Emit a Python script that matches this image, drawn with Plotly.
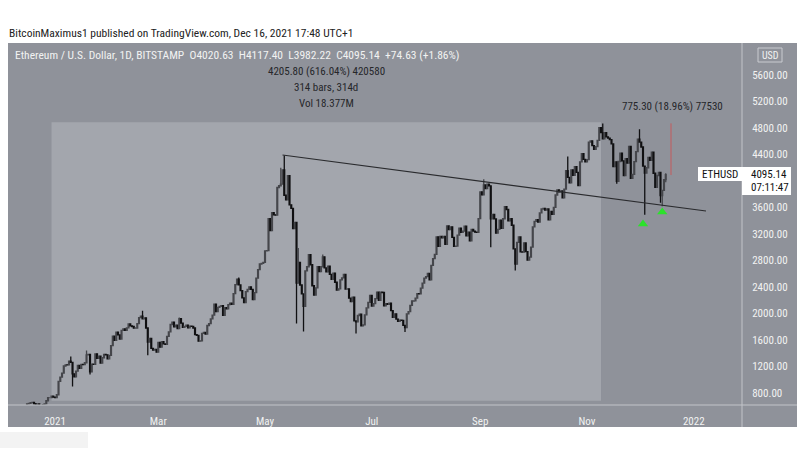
import pandas as pd
import plotly.graph_objects as go

# ---------------- data (ETH/USD daily closes, BITSTAMP) ----------------
first_open = 590.0
dec_2020 = [596, 601, 591, 554, 573, 559, 545, 568, 590, 586, 589, 636, 643, 654, 658, 638, 608, 634, 583, 611,
            626, 635, 683, 731, 731, 751, 737]
jan_2021 = [730, 774, 975, 1040, 1100, 1208, 1225, 1224, 1281, 1262, 1090, 1043, 1130, 1218, 1171, 1233, 1230, 1257,
            1377, 1382, 1121, 1236, 1233, 1392, 1324, 1357, 1253, 1332, 1382, 1376, 1314]
feb_2021 = [1369, 1515, 1660, 1594, 1718, 1677, 1614, 1746, 1768, 1744, 1783, 1843, 1814, 1804, 1779, 1781, 1848, 1937,
            1960, 1919, 1935, 1781, 1570, 1626, 1475, 1446, 1459, 1417]
mar_2021 = [1565, 1492, 1575, 1541, 1533, 1654, 1723, 1834, 1868, 1799, 1826, 1772, 1924, 1854, 1791, 1806, 1823, 1782,
            1810, 1806, 1781, 1681, 1669, 1583, 1588, 1700, 1715, 1691, 1819, 1846, 1918]
apr_2021 = [1977, 2143, 2028, 2093, 2108, 2117, 1971, 2088, 2072, 2135, 2157, 2139, 2299, 2435, 2519, 2431, 2344, 2237,
            2166, 2330, 2364, 2403, 2364, 2211, 2316, 2534, 2662, 2747, 2757, 2773]
may_2021 = [2945, 2950, 3431, 3253, 3522, 3490, 3484, 3902, 3928, 3952, 4168, 3785, 3715, 4079, 3640, 3587, 3282, 3374,
            2460, 2772, 2430, 2295, 2109, 2643, 2706, 2888, 2736, 2419, 2278, 2388, 2707]
jun_2021 = [2634, 2706, 2856, 2688, 2630, 2715, 2590, 2517, 2608, 2472, 2353, 2372, 2508, 2537, 2590, 2369, 2372, 2231,
            2178, 2245, 1888, 1875, 1970, 1990, 1812, 1829, 1978, 2084, 2167, 2275]
jul_2021 = [2113, 2150, 2226, 2322, 2198, 2324, 2317, 2117, 2147, 2139, 2155, 2044, 1941, 1995, 1916, 1880, 1898, 1895,
            1820, 1786, 1995, 2028, 2124, 2189, 2191, 2231, 2300, 2298, 2382, 2460, 2535]
aug_2021 = [2557, 2607, 2508, 2725, 2827, 2891, 3157, 3013, 3163, 3141, 3164, 3045, 3322, 3266, 3309, 3149, 3012, 3018,
            3182, 3287, 3226, 3242, 3320, 3173, 3228, 3095, 3270, 3244, 3228, 3225, 3433]
sep_2021 = [3834, 3790, 3940, 3887, 3952, 3927, 3429, 3497, 3427, 3212, 3270, 3410, 3285, 3430, 3614, 3570, 3397, 3433,
            3332, 2976, 2747, 3075, 3155, 2931, 2927, 3064, 2934, 2807, 2852, 3001]
oct_2021 = [3307, 3392, 3418, 3380, 3518, 3577, 3587, 3561, 3579, 3415, 3543, 3496, 3603, 3789, 3866, 3835, 3849, 3745,
            3877, 4155, 4055, 3972, 4168, 4085, 4218, 4131, 3931, 4289, 4414, 4326, 4290]
nov_2021 = [4322, 4586, 4606, 4535, 4476, 4520, 4612, 4807, 4731, 4637, 4730, 4665, 4648, 4623, 4559, 4216, 4290, 3996,
            4294, 4422, 4304, 4083, 4338, 4270, 4523, 4040, 4099, 4293, 4443, 4630]
dec_2021 = [4587, 4513, 4225, 4121, 4200, 4355, 4312, 4435, 4117, 3903, 4083, 4131, 3779, 3857, 4020.63, 4095.14]

# notable wicks (daily highs / lows that stick out)
wick_highs = {"2021-01-10": 1350, "2021-01-19": 1440, "2021-02-20": 2040, "2021-03-13": 1940, "2021-04-16": 2545,
              "2021-05-10": 4200, "2021-05-12": 4385, "2021-05-20": 2990, "2021-06-03": 2890,
              "2021-08-14": 3330, "2021-09-03": 4027, "2021-10-21": 4370, "2021-11-10": 4868,
              "2021-12-01": 4780, "2021-12-16": 4117.40}
wick_lows = {"2021-01-11": 900, "2021-01-21": 1080, "2021-02-23": 1370, "2021-05-19": 1850, "2021-05-23": 1730,
             "2021-06-22": 1700, "2021-07-20": 1720, "2021-09-07": 3000, "2021-09-21": 2650,
             "2021-11-18": 3960, "2021-12-04": 3490, "2021-12-13": 3670, "2021-12-14": 3620, "2021-12-16": 3982.22}

x_ticks = ["2021-01-01", "2021-03-01", "2021-05-01", "2021-07-01", "2021-09-01", "2021-11-01", "2022-01-01"]
x_tick_labels = ["2021", "Mar", "May", "Jul", "Sep", "Nov", "2022"]
# 4000.00 and 6000.00 sit under the price / currency badges in the reference
y_ticks = [800, 1200, 1600, 2000, 2400, 2800, 3200, 3600, 4400, 4800, 5200, 5600]
y_tick_labels = [f"{v:.2f}" for v in y_ticks]

trend_start = ("2021-05-11", 4392)
trend_end = ("2022-01-08", 3547)
measure1 = {"x0": "2020-12-30", "x1": "2021-11-09", "y0": 682.7, "y1": 4888.5}
measure2 = {"x": "2021-12-19", "y0": 4090, "y1": 4870}
signal_dates = ["2021-12-03", "2021-12-14"]
signal_prices = [3351, 3532]

# ---------------- build OHLC ----------------
closes = dec_2020 + jan_2021 + feb_2021 + mar_2021 + apr_2021 + may_2021 + jun_2021 + jul_2021 + aug_2021 \
    + sep_2021 + oct_2021 + nov_2021 + dec_2021
dates = pd.date_range("2020-12-05", periods=len(closes), freq="D")
opens = [first_open] + closes[:-1]
highs, lows = [], []
for d, o, c in zip(dates, opens, closes):
    k = d.strftime("%Y-%m-%d")
    highs.append(wick_highs.get(k, max(o, c)))
    lows.append(wick_lows.get(k, min(o, c)))

# ---------------- figure ----------------
W, H = 805, 456
L, R, T, B = 8, 741, 42, 405  # plot area in px


def px(x):
    return (x - L) / (R - L)


def py(y):
    return (B - y) / (B - T)


BG = "#8f929a"
LIGHT = "#a3a6ad"
SEP = "#c2c4c9"
TXT = "#f2f2f2"
FONT = "Liberation Sans Narrow, Roboto Condensed, DejaVu Sans Condensed, Roboto, sans-serif"

fig = go.Figure()
fig.add_trace(go.Candlestick(
    x=dates, open=opens, high=highs, low=lows, close=closes,
    increasing=dict(line=dict(color="#45464b", width=1.3), fillcolor="#7d8086"),
    decreasing=dict(line=dict(color="#101012", width=1.3), fillcolor="#101012"),
    whiskerwidth=0, hoverinfo="skip", showlegend=False,
))
fig.add_trace(go.Scatter(
    x=signal_dates, y=signal_prices, mode="markers",
    marker=dict(symbol="triangle-up", size=9, color="#2be22b", line=dict(width=0)),
    hoverinfo="skip", showlegend=False,
))

shapes = []
# chart frame background
shapes.append(dict(type="rect", xref="paper", yref="paper", x0=px(8), x1=px(797), y0=py(427), y1=py(43),
                   fillcolor=BG, line=dict(width=0), layer="below"))
# measured range (lighter)
shapes.append(dict(type="rect", xref="x", yref="y", x0=measure1["x0"], x1=measure1["x1"],
                   y0=measure1["y0"], y1=measure1["y1"], fillcolor=LIGHT, line=dict(width=0), layer="below"))
# separators
shapes.append(dict(type="line", xref="paper", yref="paper", x0=px(742), x1=px(742), y0=py(427), y1=py(43),
                   line=dict(color=SEP, width=1), layer="above"))
shapes.append(dict(type="line", xref="paper", yref="paper", x0=px(8), x1=px(797), y0=py(405), y1=py(405),
                   line=dict(color=SEP, width=1), layer="above"))
# trendline
shapes.append(dict(type="line", xref="x", yref="y", x0=trend_start[0], y0=trend_start[1],
                   x1=trend_end[0], y1=trend_end[1], line=dict(color="#2a2b2e", width=1.2)))
# red measure line
shapes.append(dict(type="line", xref="x", yref="y", x0=measure2["x"], x1=measure2["x"],
                   y0=measure2["y0"], y1=measure2["y1"], line=dict(color="#c45a5c", width=1)))
# ETHUSD label boxes
shapes.append(dict(type="rect", xref="paper", yref="paper", x0=px(698), x1=px(742), y0=py(181), y1=py(167),
                   fillcolor="white", line=dict(width=0), layer="above"))
shapes.append(dict(type="rect", xref="paper", yref="paper", x0=px(742), x1=px(791), y0=py(195), y1=py(167),
                   fillcolor="white", line=dict(width=0), layer="above"))
# USD box
shapes.append(dict(type="rect", xref="paper", yref="paper", x0=px(758), x1=px(782), y0=py(62), y1=py(48),
                   fillcolor=BG, line=dict(color="#c9cbd0", width=1), layer="above"))
# light strip below chart
shapes.append(dict(type="rect", xref="paper", yref="paper", x0=px(0), x1=px(88), y0=py(448), y1=py(432),
                   fillcolor="#f3f3f3", line=dict(width=0), layer="below"))


def ann(text, x, y, color, size, xanchor="left", **kw):
    return dict(text=text, x=px(x), y=py(y), xref="paper", yref="paper", showarrow=False,
                xanchor=xanchor, yanchor="middle", font=dict(color=color, size=size, family=FONT), **kw)


annotations = [
    ann("BitcoinMaximus1 published on TradingView.com, Dec 16, 2021 17:48 UTC+1", 7, 33, "#222222", 11.5),
    ann("Ethereum / U.S. Dollar, 1D, BITSTAMP&nbsp;&nbsp;O4020.63&nbsp;&nbsp;H4117.40&nbsp;&nbsp;L3982.22"
        "&nbsp;&nbsp;C4095.14&nbsp;&nbsp;+74.63 (+1.86%)", 13, 55, TXT, 11.5),
    ann("4205.80 (616.04%) 420580", 326, 72, "#26272a", 11, "center"),
    ann("314 bars, 314d", 326, 88, "#26272a", 11, "center"),
    ann("Vol 18.377M", 326, 103, "#26272a", 11, "center"),
    ann("775.30 (18.96%) 77530", 672, 106, "#26272a", 11, "center"),
    ann("ETHUSD", 720, 174, "#111111", 11, "center"),
    ann("4095.14", 749, 174, "#111111", 11),
    ann("07:11:47", 749, 187, "#111111", 11),
    ann("USD", 770, 55, TXT, 10, "center"),
]

fig.update_layout(
    width=W, height=H,
    margin=dict(l=L, r=W - R, t=T, b=H - B, pad=0),
    paper_bgcolor="white", plot_bgcolor="rgba(0,0,0,0)",
    shapes=shapes, annotations=annotations,
    font=dict(family=FONT, color=TXT, size=11),
    xaxis=dict(type="date", range=["2020-12-05 03:00", "2022-01-28 00:00"], rangeslider=dict(visible=False),
               showgrid=False, zeroline=False, showline=False,
               tickmode="array", tickvals=x_ticks, ticktext=x_tick_labels,
               ticks="outside", ticklen=6, tickcolor="rgba(0,0,0,0)",
               tickfont=dict(color=TXT, size=11, family=FONT)),
    yaxis=dict(side="right", range=[619, 6098], showgrid=False, zeroline=False, showline=False,
               tickmode="array", tickvals=y_ticks, ticktext=y_tick_labels,
               ticks="outside", ticklen=8, tickcolor="rgba(0,0,0,0)",
               tickfont=dict(color=TXT, size=11, family=FONT)),
    hovermode=False,
)

fig.write_html("out.html")
